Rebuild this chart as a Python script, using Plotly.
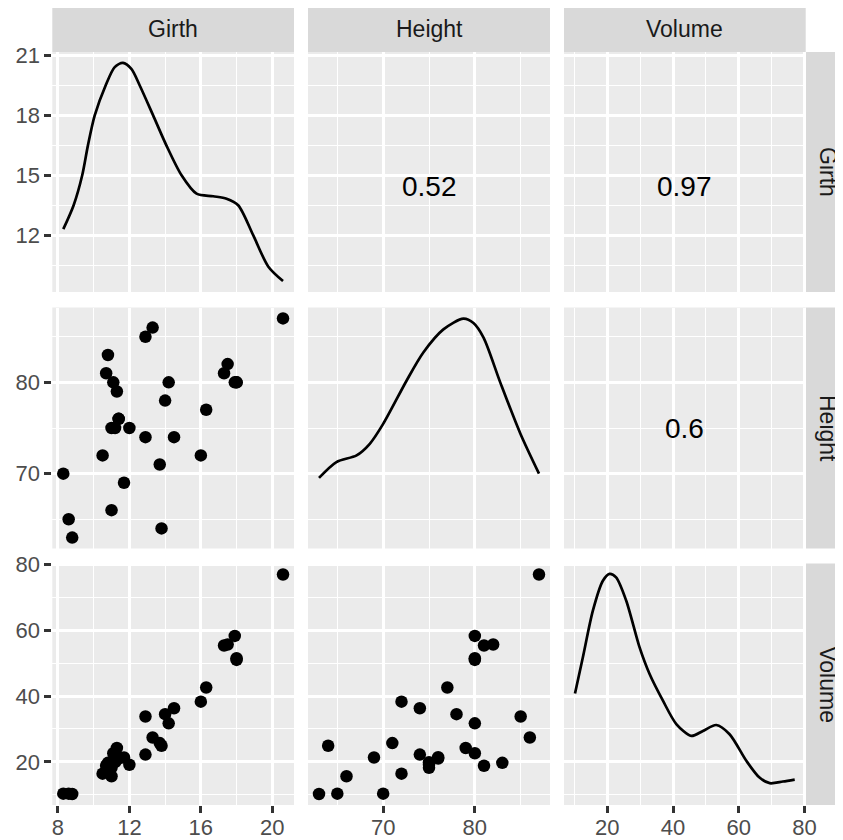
import plotly.graph_objects as go

# ---- data (trees) ----
girth = [8.3, 8.6, 8.8, 10.5, 10.7, 10.8, 11.0, 11.0, 11.1, 11.2, 11.3, 11.4, 11.4, 11.7, 12.0,
         12.9, 12.9, 13.3, 13.7, 13.8, 14.0, 14.2, 14.5, 16.0, 16.3, 17.3, 17.5, 17.9, 18.0, 18.0, 20.6]
height = [70, 65, 63, 72, 81, 83, 66, 75, 80, 75, 79, 76, 76, 69, 75,
          74, 85, 86, 71, 64, 78, 80, 74, 72, 77, 81, 82, 80, 80, 80, 87]
volume = [10.3, 10.3, 10.2, 16.4, 18.8, 19.7, 15.6, 18.2, 22.6, 19.9, 24.2, 21.0, 21.4, 21.3, 19.1,
          22.2, 33.8, 27.4, 25.7, 24.9, 34.5, 31.7, 36.3, 38.3, 42.6, 55.4, 55.7, 58.3, 51.5, 51.0, 77.0]

variables = ["Girth", "Height", "Volume"]
corr_labels = {(0, 1): "0.52", (0, 2): "0.97", (1, 2): "0.6"}

# density curves (x, y in row units)
girth_dens_x = [8.3, 8.88, 9.36, 9.68, 10.06, 10.67, 11.18, 11.64, 12.11, 12.58, 13.33, 14.07, 14.92,
                15.76, 16.69, 17.44, 18.09, 18.93, 19.78, 20.6]
girth_dens_y = [12.3, 13.5, 15.0, 16.5, 18.0, 19.5, 20.42, 20.63, 20.33, 19.5, 18.0, 16.5, 15.0,
                14.08, 13.95, 13.83, 13.5, 12.0, 10.42, 9.7]
height_dens_x = [63, 64.9, 67.1, 68.54, 70, 72.55, 74.38, 76.57, 78.76, 79.85, 80.95, 82.77, 84.96, 87]
height_dens_y = [69.53, 71.27, 72.0, 73.27, 75.45, 80.18, 83.27, 85.8, 86.98, 86.5, 84.9, 80.0, 74.4, 70.0]
volume_dens_x = [10.2, 12.6, 15.64, 18.68, 20.7, 22.7, 25.78, 29.84, 32.88, 36.94, 41.0, 45.56, 49.1,
                 53.16, 57.2, 62.3, 66.3, 69.4, 73.4, 77.0]
volume_dens_y = [40.8, 51.8, 66.0, 75.1, 77.2, 76.1, 69.0, 54.8, 46.7, 38.6, 31.5, 27.9, 29.4,
                 31.2, 28.4, 20.3, 15.2, 13.5, 14.0, 14.6]

# axis breaks
major_breaks = [[8, 12, 16, 20], [70, 80], [20, 40, 60, 80]]
minor_breaks = [[10, 14, 18], [65, 75, 85], [10, 30, 50, 70]]
row1_major = [12, 15, 18, 21]
row1_minor = [10.5, 13.5, 16.5, 19.5]

# ---- layout geometry (page pixels; the page body has an 8px margin) ----
OFF = 8
W, H = 843 - OFF, 840 - OFF
col_px = [(52.3, 294.0), (308.0, 550.0), (564.0, 805.7)]
row_px = [(52.0, 292.0), (307.5, 548.5), (563.5, 805.0)]

def px_x(v):
    return (v - OFF) / W

def px_y(v):
    return 1 - (v - OFF) / H

cols = [girth, height, volume]

def expand(vals):
    lo, hi = min(vals), max(vals)
    d = (hi - lo) * 0.05
    return [lo - d, hi + d]

x_ranges = [expand(c) for c in cols]
y_ranges = [expand(girth_dens_y), expand(height), expand(volume)]

fig = go.Figure()
PANEL_BG = "#EBEBEB"
FAMILY = "Liberation Sans, Arial, sans-serif"
TICKFONT = dict(family=FAMILY, size=22, color="#4D4D4D")

layout = {}
for r in range(3):
    for c in range(3):
        k = r * 3 + c + 1
        xa = "xaxis" if k == 1 else f"xaxis{k}"
        ya = "yaxis" if k == 1 else f"yaxis{k}"
        xref = "x" if k == 1 else f"x{k}"
        yref = "y" if k == 1 else f"y{k}"
        show_x = (r == 2)
        show_y = (c == 0)
        ymaj = row1_major if r == 0 else major_breaks[r]
        ymin = row1_minor if r == 0 else minor_breaks[r]
        layout[xa] = dict(
            domain=[px_x(col_px[c][0]), px_x(col_px[c][1])], anchor=yref,
            range=x_ranges[c], tickmode="array", tickvals=major_breaks[c],
            showgrid=True, gridcolor="white", gridwidth=2.6, zeroline=False,
            showline=False, showticklabels=show_x, ticks="outside" if show_x else "",
            ticklen=7, tickwidth=2.6, tickcolor="#333333", tickfont=TICKFONT,
            ticklabelstandoff=-4,
            minor=dict(tickvals=minor_breaks[c], showgrid=True, gridcolor="white",
                       gridwidth=1.3, ticks=""),
            automargin=False, fixedrange=True,
        )
        layout[ya] = dict(
            domain=[px_y(row_px[r][1]), px_y(row_px[r][0])], anchor=xref,
            range=y_ranges[r], tickmode="array", tickvals=ymaj,
            showgrid=True, gridcolor="white", gridwidth=2.6, zeroline=False,
            showline=False, showticklabels=show_y, ticks="outside" if show_y else "",
            ticklen=7, tickwidth=2.6, tickcolor="#333333", tickfont=TICKFONT,
            minor=dict(tickvals=ymin, showgrid=True, gridcolor="white",
                       gridwidth=1.3, ticks=""),
            automargin=False, fixedrange=True,
        )

def axes_for(r, c):
    k = r * 3 + c + 1
    return ("x" if k == 1 else f"x{k}"), ("y" if k == 1 else f"y{k}")

# density lines on diagonal
dens = [(girth_dens_x, girth_dens_y), (height_dens_x, height_dens_y), (volume_dens_x, volume_dens_y)]
for i, (dx, dy) in enumerate(dens):
    xr, yr = axes_for(i, i)
    fig.add_trace(go.Scatter(x=dx, y=dy, xaxis=xr, yaxis=yr, mode="lines",
                             line=dict(color="black", width=2.7, shape="spline", smoothing=0.8),
                             hoverinfo="skip", showlegend=False))

# scatter points lower triangle
for r in range(3):
    for c in range(r):
        xr, yr = axes_for(r, c)
        fig.add_trace(go.Scatter(x=cols[c], y=cols[r], xaxis=xr, yaxis=yr, mode="markers",
                                 marker=dict(color="black", size=12.5, line=dict(width=0)),
                                 showlegend=False))

annotations = []
# correlation text upper triangle
for (r, c), lab in corr_labels.items():
    xr, yr = axes_for(r, c)
    cx = (min(cols[c]) + max(cols[c])) / 2
    cy = (min(cols[r]) + max(cols[r])) / 2
    annotations.append(dict(x=cx, y=cy, xref=xr, yref=yr, text=lab, showarrow=False,
                            font=dict(family=FAMILY, size=28, color="black")))

shapes = []
STRIP = "#D9D9D9"
STRIPFONT = dict(family=FAMILY, size=23, color="#1A1A1A")
strip_top = (6.0, 52.0)
strip_right = (806.0, 850.0)
for c, name in enumerate(variables):
    shapes.append(dict(type="rect", xref="paper", yref="paper",
                       x0=px_x(col_px[c][0]), x1=px_x(col_px[c][1]),
                       y0=px_y(strip_top[1]), y1=px_y(strip_top[0]),
                       fillcolor=STRIP, line=dict(width=0), layer="below"))
    annotations.append(dict(x=px_x((col_px[c][0] + col_px[c][1]) / 2),
                            y=px_y((strip_top[0] + strip_top[1]) / 2),
                            xref="paper", yref="paper", text=name, showarrow=False,
                            font=STRIPFONT, xanchor="center", yanchor="middle"))
for r, name in enumerate(variables):
    shapes.append(dict(type="rect", xref="paper", yref="paper",
                       x0=px_x(strip_right[0]), x1=px_x(strip_right[1]),
                       y0=px_y(row_px[r][1]), y1=px_y(row_px[r][0]),
                       fillcolor=STRIP, line=dict(width=0), layer="below"))
    annotations.append(dict(x=px_x((strip_right[0] + strip_right[1]) / 2),
                            y=px_y((row_px[r][0] + row_px[r][1]) / 2),
                            xref="paper", yref="paper", text=name, showarrow=False,
                            textangle=90, font=STRIPFONT, xanchor="center", yanchor="middle"))

fig.update_layout(
    template="none",
    width=W, height=H, margin=dict(l=0, r=0, t=0, b=0, pad=0),
    font=dict(family=FAMILY),
    paper_bgcolor="white", plot_bgcolor=PANEL_BG,
    showlegend=False, shapes=shapes, annotations=annotations, **layout,
)

fig.write_html("out.html")
